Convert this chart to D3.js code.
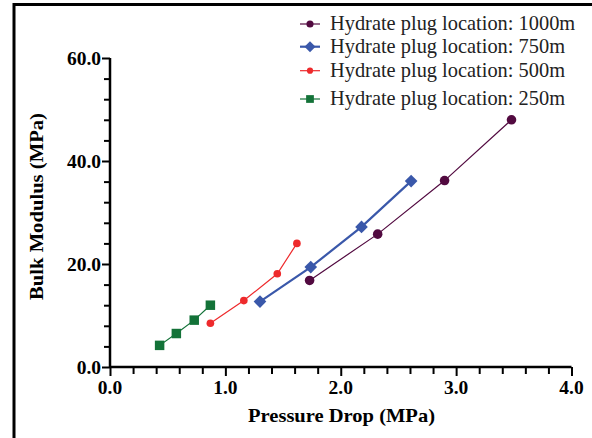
<!DOCTYPE html>
<html><head><meta charset="utf-8">
<script src="https://cdn.jsdelivr.net/npm/d3@7"></script>
<style>body{margin:0;background:#fff}svg{display:block}</style>
</head><body>
<svg id="c" width="592" height="438"></svg>
<script>
const seriesNames = ["Hydrate plug location: 1000m","Hydrate plug location: 750m","Hydrate plug location: 500m","Hydrate plug location: 250m"];
const x1000 = [1.73, 2.32, 2.90, 3.48];
const y1000 = [16.8, 25.8, 36.2, 48.0];
const x750 = [1.30, 1.74, 2.18, 2.61];
const y750 = [12.7, 19.4, 27.2, 36.1];
const x500 = [0.87, 1.16, 1.45, 1.62];
const y500 = [8.5, 12.9, 18.1, 24.0];
const x250 = [0.43, 0.575, 0.73, 0.87];
const y250 = [4.2, 6.5, 9.1, 12.0];
const xTicks = [0, 1, 2, 3, 4];
const yTicks = [0, 20, 40, 60];

const svg = d3.select("#c");
const x = d3.scaleLinear().domain([0,4]).range([110,571.5]);
const y = d3.scaleLinear().domain([0,60]).range([367,58]);

// frame
svg.append("path").attr("d","M14,438V4.5H592").attr("fill","none").attr("stroke","#000").attr("stroke-width",3);

const serif = "'Liberation Serif','Times New Roman',serif";
// x axis
const xa = svg.append("g").attr("transform","translate(0,367)")
  .call(d3.axisBottom(x).tickValues(d3.range(0,4.0001,0.2)).tickSize(7).tickFormat(""));
xa.select(".domain").attr("stroke-width",2.5).attr("d","M110,0H571.5");
xa.selectAll(".tick line").attr("stroke-width",2);
xa.selectAll(".tick").filter(d=>Math.abs(d-Math.round(d))<1e-6).select("line").attr("y2",9);
svg.append("g").selectAll("text").data(xTicks).join("text")
  .attr("x",d=>x(d)).attr("y",394).attr("text-anchor","middle")
  .attr("font-family",serif).attr("font-weight","bold").attr("font-size",19.5).text(d=>d.toFixed(1));

// y axis
const ya = svg.append("g").attr("transform","translate(110,0)")
  .call(d3.axisLeft(y).tickValues(d3.range(0,60.0001,4)).tickSize(6).tickFormat(""));
ya.select(".domain").attr("stroke-width",2.5).attr("d","M0,368V58");
ya.selectAll(".tick line").attr("stroke-width",2);
ya.selectAll(".tick").filter(d=>d%20===0).select("line").attr("x2",-8);
svg.append("g").selectAll("text").data(yTicks).join("text")
  .attr("x",101).attr("y",d=>y(d)+6.5).attr("text-anchor","end")
  .attr("font-family",serif).attr("font-weight","bold").attr("font-size",19.5).text(d=>d.toFixed(1));

svg.append("text").attr("x",341.5).attr("y",422).attr("text-anchor","middle")
  .attr("font-family",serif).attr("font-weight","bold").attr("font-size",19)
  .attr("textLength",187).attr("lengthAdjust","spacingAndGlyphs").text("Pressure Drop (MPa)");
svg.append("text").attr("transform","translate(43,206.5) rotate(-90)").attr("text-anchor","middle")
  .attr("font-family",serif).attr("font-weight","bold").attr("font-size",19)
  .attr("textLength",187).attr("lengthAdjust","spacingAndGlyphs").text("Bulk Modulus (MPa)");

const diamond = {draw(ctx, size){const r=Math.sqrt(size)/Math.SQRT2; ctx.moveTo(0,-r);ctx.lineTo(r,0);ctx.lineTo(0,r);ctx.lineTo(-r,0);ctx.closePath();}};
const series = [
  {xs:x1000, ys:y1000, color:"#520a40", lw:1.2, sym:d3.symbolCircle, size:72, lsize:40},
  {xs:x750, ys:y750, color:"#3a58aa", lw:2.2, sym:diamond, size:80, lsize:60},
  {xs:x500, ys:y500, color:"#ee2a2c", lw:1.2, sym:d3.symbolCircle, size:46, lsize:30},
  {xs:x250, ys:y250, color:"#137238", lw:1.2, sym:d3.symbolSquare, size:90, lsize:60},
];
const line = d3.line();
series.forEach(s=>{
  const pts = s.xs.map((v,i)=>[x(v), y(s.ys[i])]);
  svg.append("path").attr("d",line(pts)).attr("fill","none").attr("stroke",s.color).attr("stroke-width",s.lw);
  svg.append("g").selectAll("path").data(pts).join("path")
    .attr("transform",d=>`translate(${d[0]},${d[1]})`)
    .attr("d",d3.symbol().type(s.sym).size(s.size)).attr("fill",s.color);
});

// legend
const legY = [24, 46.7, 70.7, 99];
series.forEach((s,i)=>{
  const g = svg.append("g").attr("transform",`translate(0,${legY[i]})`);
  g.append("line").attr("x1",300).attr("x2",320).attr("stroke",s.color).attr("stroke-width",s.lw);
  g.append("path").attr("transform","translate(310,0)").attr("d",d3.symbol().type(s.sym).size(s.lsize)).attr("fill",s.color);
  g.append("text").attr("x",330).attr("y",5.8).attr("font-family",serif).attr("font-size",20.4).attr("fill","#222").text(seriesNames[i]);
});
</script>
</body></html>
